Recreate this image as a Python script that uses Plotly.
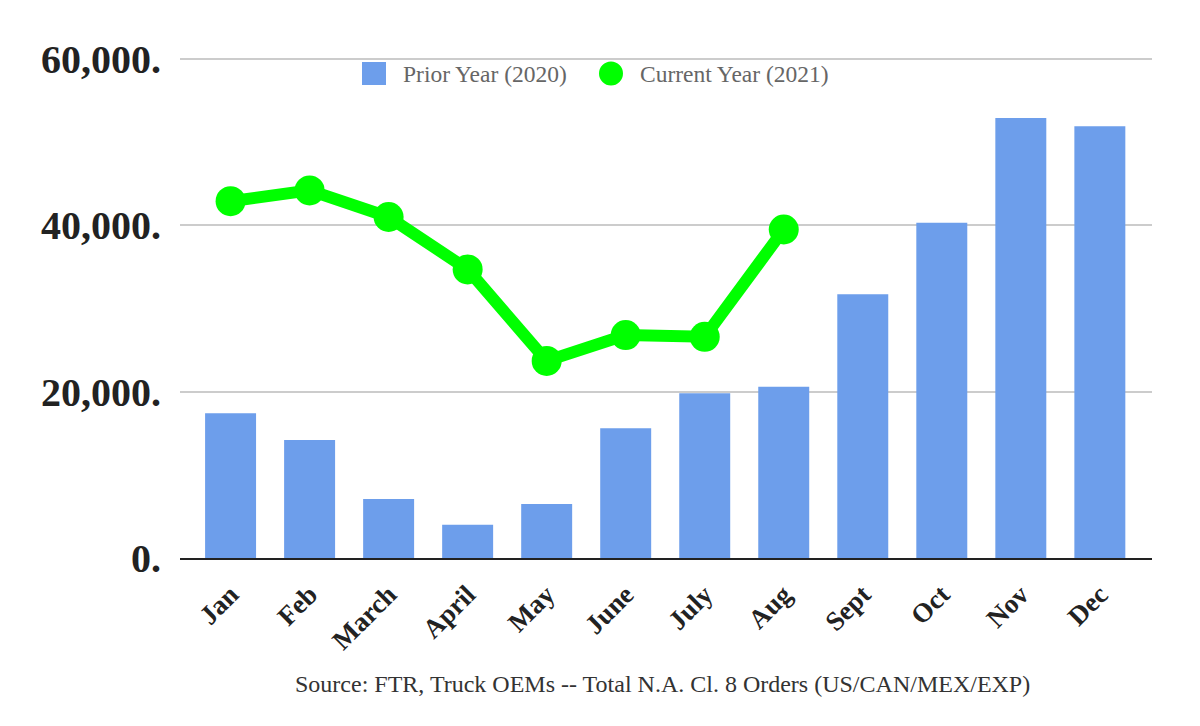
import plotly.graph_objects as go

months = ["Jan", "Feb", "March", "April", "May", "June", "July", "Aug", "Sept", "Oct", "Nov", "Dec"]
prior_2020 = [17400, 14200, 7100, 4000, 6500, 15600, 19800, 20600, 31700, 40300, 52900, 51900]
current_months = ["Jan", "Feb", "March", "April", "May", "June", "July", "Aug"]
current_2021 = [42900, 44200, 41000, 34700, 23700, 26800, 26600, 39500]
y_ticks = [0, 20000, 40000, 60000]
y_tick_labels = ["0.", "20,000.", "40,000.", "60,000."]
source_text = "Source: FTR, Truck OEMs -- Total N.A. Cl. 8 Orders (US/CAN/MEX/EXP)"

SERIF = "Liberation Serif, Times New Roman, serif"
BLUE = "#6d9eeb"
GREEN = "#00ff00"

fig = go.Figure()
fig.add_trace(go.Bar(x=months, y=prior_2020, marker=dict(color=BLUE, line=dict(width=0)),
                     width=0.645, name="Prior Year (2020)", showlegend=False))
fig.add_trace(go.Scatter(x=current_months, y=current_2021, mode="lines+markers",
                         line=dict(color=GREEN, width=12),
                         marker=dict(color=GREEN, size=30),
                         name="Current Year (2021)", showlegend=False))

# page body has an 8px margin; positions below are in screen pixels
OFF = 8
W, H = 1200, 726
Y_MAX = 60600
PX_PER_UNIT = (558 - 59) / 60000.0
top_screen = 558 - Y_MAX * PX_PER_UNIT
L, T = 180 - OFF, top_screen - OFF
R = 1200 - (1152 - OFF)
B = 726 - (558 - OFF)
pw, ph = W - L - R, H - T - B

def px(x):
    return (x - OFF - L) / pw

def py(y):
    return (H - B - (y - OFF)) / ph

# manual legend
shapes = [
    dict(type="rect", xref="paper", yref="paper", x0=px(362), x1=px(386), y0=py(85), y1=py(62),
         fillcolor=BLUE, line=dict(width=0)),
    dict(type="circle", xref="paper", yref="paper", x0=px(599), x1=px(623), y0=py(85.5), y1=py(61.5),
         fillcolor=GREEN, line=dict(width=0)),
]
annotations = [
    dict(text="Prior Year (2020)", xref="paper", yref="paper", x=px(401), y=py(74), xanchor="left",
         yanchor="middle", showarrow=False, font=dict(family=SERIF, size=23.5, color="#666666")),
    dict(text="Current Year (2021)", xref="paper", yref="paper", x=px(638), y=py(74), xanchor="left",
         yanchor="middle", showarrow=False, font=dict(family=SERIF, size=23.5, color="#666666")),
    dict(text=source_text, xref="paper", yref="paper", x=px(662), y=py(684), xanchor="center",
         yanchor="middle", showarrow=False, font=dict(family=SERIF, size=24, color="#333333")),
]

fig.update_layout(
    width=W, height=H,
    margin=dict(l=L, r=R, t=T, b=B, autoexpand=False),
    plot_bgcolor="white", paper_bgcolor="white",
    showlegend=False,
    shapes=shapes, annotations=annotations,
    xaxis=dict(
        type="category", categoryarray=months, categoryorder="array",
        range=[-0.64, 11.66], tickangle=-45,
        tickfont=dict(family=SERIF, size=27, color="#222222", weight="bold"),
        showgrid=False, showline=True, linecolor="#222222", linewidth=2,
        ticks="", ticklabelstandoff=8,
    ),
    yaxis=dict(
        range=[0, Y_MAX], tickvals=y_ticks, ticktext=y_tick_labels,
        tickfont=dict(family=SERIF, size=40, color="#222222", weight="bold"),
        showgrid=True, gridcolor="#cccccc", gridwidth=2,
        zeroline=False, showline=False, ticks="", ticklabelstandoff=18,
    ),
)

fig.write_html("out.html")
